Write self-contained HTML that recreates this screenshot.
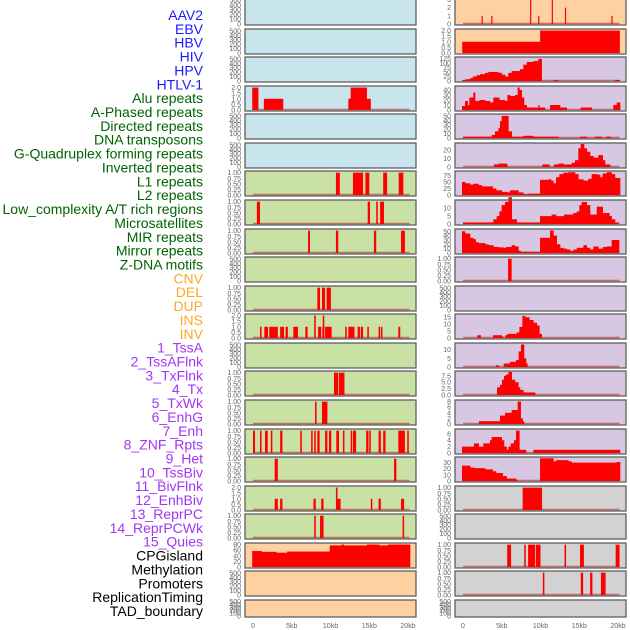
<!DOCTYPE html>
<html><head><meta charset="utf-8">
<style>
html,body{margin:0;padding:0;background:#fff;}
svg{display:block;font-family:"Liberation Sans",sans-serif;}
</style></head>
<body>
<svg id="chart" width="630" height="630" viewBox="0 0 630 630" xmlns="http://www.w3.org/2000/svg">
<g id="labels"></g>
<g id="panels"></g>
<g id="xaxes"></g>
</svg>
<script>
// ---- labels ----
const labelNames = ["AAV2","EBV","HBV","HIV","HPV","HTLV-1","Alu repeats","A-Phased repeats","Directed repeats","DNA transposons","G-Quadruplex forming repeats","Inverted repeats","L1 repeats","L2 repeats","Low_complexity A/T rich regions","Microsatellites","MIR repeats","Mirror repeats","Z-DNA motifs","CNV","DEL","DUP","INS","INV","1_TssA","2_TssAFlnk","3_TxFlnk","4_Tx","5_TxWk","6_EnhG","7_Enh","8_ZNF_Rpts","9_Het","10_TssBiv","11_BivFlnk","12_EnhBiv","13_ReprPC","14_ReprPCWk","15_Quies","CPGisland","Methylation","Promoters","ReplicationTiming","TAD_boundary"];
const labelGroups = ["v","v","v","v","v","v","r","r","r","r","r","r","r","r","r","r","r","r","r","c","c","c","c","c","s","s","s","s","s","s","s","s","s","s","s","s","s","s","s","o","o","o","o","o"];
const groupColor = {v:"#1a1aff",r:"#006400",c:"#ffa726",s:"#a335f5",o:"#000"};

// ---- x axis ----
const xTickValues = [0,5,10,15,20];
const xTickLabels = ["0","5kb","10kb","15kb","20kb"];

// ---- tick sets ----
const T500 = [0,100,200,300,400,500];
const T1 = [0,0.25,0.5,0.75,1];
const T1L = ["0.00","0.25","0.50","0.75","1.00"];
const T2 = [0,0.5,1,1.5,2];
const T2L = ["0.0","0.5","1.0","1.5","2.0"];

// ---- data: bars are [startKb, endKb, value]; steps are [startKb, value] with last [endKb, null] ----
const L3 = [[-0.1,0.7,2],[1.4,3.9,1],[12.3,15.2,1],[12.6,14.7,2]];
const L6 = [[10.7,11.2,1],[12.9,14.2,1],[14.5,15.0,1],[16.8,17.3,1],[18.8,19.4,1]];
const L7 = [[0.5,0.9,1],[14.8,15.1,1],[15.9,16.1,1],[16.4,16.9,1]];
const L8 = [[7.1,7.35,1],[10.7,11.0,1],[15.6,15.9,1],[19.1,19.6,1]];
const L10 = [[8.3,8.65,1],[8.9,9.3,1],[9.5,10.05,1]];
const L11 = [[0.9,1.1,1],[1.46,1.94,1],[2.1,3.2,1],[3.5,4.0,1],[4.2,4.5,1],[5.2,5.8,1],[6.75,7.05,1],[7.9,8.1,2],[8.4,8.8,1],[8.95,9.2,1],[9.0,9.2,2],[9.3,10.15,1],[11.9,12.1,1],[12.3,13.1,1],[13.5,13.8,1],[13.9,14.2,1],[14.75,14.95,1],[16.2,16.4,1],[16.5,16.7,1],[18.75,19.0,1]];
const L13 = [[10.45,11.0,1],[11.1,11.8,1]];
const L14 = [[8.0,8.2,1],[8.9,9.6,1]];
const L15 = [[0,0.26,1],[0.9,1.1,1],[1.55,1.9,1],[2.3,2.5,1],[3.5,3.8,1],[6.1,6.3,1],[7.5,7.7,1],[7.9,8.1,1],[8.3,8.6,1],[9.3,9.6,1],[9.8,10.1,1],[10.75,11.1,1],[11.6,11.8,1],[12.6,12.8,1],[12.9,13.3,1],[14.6,14.9,1],[15.0,15.2,1],[16.2,16.5,1],[16.8,17.1,1],[18.75,19.6,1],[19.9,20.1,1]];
const L16 = [[2.8,3.2,1],[18.2,18.5,1]];
const L17 = [[2.8,3.2,1],[3.5,3.8,1],[7.8,8.1,1],[8.8,9.1,1],[10.7,10.9,2],[10.9,11.3,1],[15.2,15.4,1],[16.2,16.5,1],[19.1,19.5,1]];
const L18 = [[7.9,8.1,1],[8.65,9.1,1],[19.3,19.5,1]];
const L19 = [[-0.1,57],[1.1,54],[3.0,51],[4.4,55],[9.9,77],[11.4,80],[11.7,77],[14.7,80],[16.3,77],[17.4,80],[20.26,null]];

const R0 = [[2.4,2.55,1],[3.65,3.8,1],[8.65,8.8,3],[9.7,9.85,1],[11.45,11.6,3],[13.15,13.3,2],[19.15,19.3,1]];
const R1 = [[-0.1,1],[9.95,2],[20.2,null]];
const R2 = [[-0.13,5],[0.34,10],[0.9,15],[1.25,25],[1.76,32],[2.19,38],[2.84,45],[3.27,50],[4.56,45],[4.99,35],[5.42,25],[5.85,45],[6.28,55],[7.35,65],[7.78,90],[8.22,105],[9.08,110],[9.72,122],[10.15,0],[11.66,5],[12.26,0],[19.61,5],[20.26,null]];
const R3 = [[-0.13,8],[0.26,18],[0.6,10],[0.82,25],[1.33,35],[1.55,18],[2.11,20],[2.84,18],[3.48,15],[3.91,25],[4.69,20],[5.42,18],[5.72,30],[6.06,28],[6.71,30],[7.05,45],[7.27,40],[7.57,25],[7.87,10],[8.22,5],[9.29,5],[9.72,10],[9.85,5],[10.58,0],[11.23,10],[12.52,5],[13.38,0],[15.18,5],[16.6,0],[19.4,10],[19.83,15],[20.26,null]];
const R4 = [[0,3],[3.7,7],[4.13,15],[4.56,22],[4.77,38],[4.99,50],[5.85,15],[6.28,3],[7.78,5],[9.08,3],[12.3,0],[15.1,3],[15.96,0],[17.03,3],[17.89,0],[18.45,3],[19.05,0],[20.1,null]];
const R5 = [[4.0,3],[4.6,4],[5.63,3],[5.72,0],[10.24,3],[11.14,0],[11.74,3],[12.3,4],[12.95,3],[14.02,5],[14.45,8],[14.88,22],[15.18,27],[15.61,22],[15.96,18],[16.39,13],[16.82,11],[17.46,14],[18.02,8],[18.32,3],[18.97,null]];
const R6 = [[-0.13,50],[0.26,45],[0.9,40],[1.33,43],[1.98,38],[2.41,33],[3.83,25],[4.26,18],[4.99,12],[5.72,10],[6.06,18],[7.14,10],[7.78,3],[8.3,5],[9.94,58],[11.01,60],[11.35,55],[11.66,45],[12.0,68],[12.43,80],[12.95,85],[13.59,87],[14.45,80],[14.88,60],[15.53,55],[16.17,62],[16.6,80],[17.25,78],[17.68,68],[18.02,82],[18.54,87],[19.18,80],[19.61,65],[20.26,null]];
const R7 = [[0,1],[3.91,3],[4.34,5],[4.69,8],[4.99,12],[5.42,14],[5.85,17],[6.28,3],[6.92,1],[9.94,5],[11.44,6],[12.0,5],[13.03,6],[14.24,7],[14.67,8],[15.01,12],[15.31,14],[15.96,12],[16.39,6],[17.25,11],[18.02,7],[18.88,5],[19.18,3],[19.61,1],[20.04,null]];
const R8 = [[-0.13,50],[0.26,45],[0.9,35],[1.33,32],[1.63,25],[1.98,23],[2.84,20],[3.27,18],[3.91,14],[4.56,13],[5.2,12],[5.55,14],[6.28,18],[6.71,15],[7.14,5],[7.44,3],[9.94,35],[11.23,52],[11.66,40],[12.09,20],[12.52,12],[12.95,10],[13.38,8],[13.81,5],[14.24,8],[14.67,12],[15.53,18],[15.96,12],[16.39,8],[16.82,15],[17.46,10],[18.02,14],[18.54,15],[19.18,30],[20.13,null]];
const R9 = [[5.81,6.28,1]];
const R11 = [[1.85,2],[2.28,0],[3.87,2],[4.99,1],[5.2,0],[5.46,2],[5.72,3],[6.92,4],[7.27,8],[7.66,16],[8.0,15],[8.56,13],[9.08,11],[9.51,9],[9.85,3],[10.15,null]];
const R12 = [[4.26,1],[4.6,0],[5.25,2],[6.06,3],[6.84,4],[7.18,9],[7.48,13],[7.87,5],[8.13,2],[8.3,null]];
const R13 = [[4.39,3],[4.77,4],[5.03,6],[5.29,7.5],[5.55,8],[5.85,9],[6.28,6],[6.71,5],[7.14,3],[7.35,2],[7.78,1],[9.29,null]];
const R14 = [[2.06,1],[4.77,3],[5.42,4],[6.28,5],[7.05,8],[7.44,2],[7.7,1],[7.87,null]];
const R15 = [[-0.13,2],[1.42,3],[2.02,2],[2.62,3],[3.48,4],[3.7,5],[4.99,4],[5.29,2],[5.63,1],[5.85,2],[6.15,3],[6.58,4],[6.84,7],[7.27,1],[8.13,0],[9.08,1],[20.26,null]];
const R16 = [[-0.13,25],[0.9,22],[1.42,21],[2.84,19],[3.83,16],[4.26,13],[5.12,8],[5.63,4],[6.84,2],[7.01,0],[9.94,37],[11.66,32],[12.0,34],[13.59,32],[14.02,30],[19.83,31],[20.26,null]];
const R17 = [[7.7,10.2,1]];
const R19 = [[5.7,6.2,1],[7.9,8.1,1],[8.4,9.3,1],[9.4,10.0,1],[13.1,13.3,1],[15.1,15.6,1],[19.7,20.2,1]];
const R20 = [[10.3,10.5,1],[15.2,15.5,1],[16.4,16.7,1],[17.8,18.4,1]];

const BLUE="#c8e4ec", GREEN="#c9e1a5", PEACH="#ffd1a0", LAV="#d7c7e3", GRAY="#d2d2d2";
// panel configs: col, row, background, ymax, ticks, tick labels, data, kind
const panels = [
 {c:0,r:0,bg:BLUE,ymax:520,t:T500},{c:0,r:1,bg:BLUE,ymax:520,t:T500},{c:0,r:2,bg:BLUE,ymax:520,t:T500},
 {c:0,r:3,bg:BLUE,ymax:2.05,t:T2,tl:T2L,bars:L3},
 {c:0,r:4,bg:BLUE,ymax:520,t:T500},{c:0,r:5,bg:BLUE,ymax:520,t:T500},
 {c:0,r:6,bg:GREEN,ymax:1.03,t:T1,tl:T1L,bars:L6},{c:0,r:7,bg:GREEN,ymax:1.03,t:T1,tl:T1L,bars:L7},
 {c:0,r:8,bg:GREEN,ymax:1.03,t:T1,tl:T1L,bars:L8},{c:0,r:9,bg:GREEN,ymax:520,t:T500},
 {c:0,r:10,bg:GREEN,ymax:1.03,t:T1,tl:T1L,bars:L10},{c:0,r:11,bg:GREEN,ymax:2.05,t:T2,tl:T2L,bars:L11},
 {c:0,r:12,bg:GREEN,ymax:520,t:T500},{c:0,r:13,bg:GREEN,ymax:1.03,t:T1,tl:T1L,bars:L13},
 {c:0,r:14,bg:GREEN,ymax:1.03,t:T1,tl:T1L,bars:L14},{c:0,r:15,bg:GREEN,ymax:1.03,t:T1,tl:T1L,bars:L15},
 {c:0,r:16,bg:GREEN,ymax:1.03,t:T1,tl:T1L,bars:L16},{c:0,r:17,bg:GREEN,ymax:2.05,t:T2,tl:T2L,bars:L17},
 {c:0,r:18,bg:GREEN,ymax:1.03,t:T1,tl:T1L,bars:L18},
 {c:0,r:19,bg:PEACH,ymax:82,t:[0,20,40,60,80],steps:L19},
 {c:0,r:20,bg:PEACH,ymax:520,t:T500},{c:0,r:21,bg:PEACH,ymax:520,t:T500},
 {c:1,r:0,bg:PEACH,ymax:3.05,t:[0,1,2,3],bars:R0},
 {c:1,r:1,bg:PEACH,ymax:2.05,t:T2,tl:T2L,steps:R1},
 {c:1,r:2,bg:LAV,ymax:127,t:[0,25,50,75,100,125],steps:R2},
 {c:1,r:3,bg:LAV,ymax:46,t:[0,10,20,30,40],steps:R3},
 {c:1,r:4,bg:LAV,ymax:52,t:[0,10,20,30,40,50],steps:R4},
 {c:1,r:5,bg:LAV,ymax:27,t:[0,10,20],steps:R5},
 {c:1,r:6,bg:LAV,ymax:88,t:[0,25,50,75],steps:R6},
 {c:1,r:7,bg:LAV,ymax:14.6,t:[0,5,10],steps:R7},
 {c:1,r:8,bg:LAV,ymax:53,t:[0,10,20,30,40,50],steps:R8},
 {c:1,r:9,bg:LAV,ymax:1.03,t:T1,tl:T1L,bars:R9},
 {c:1,r:10,bg:LAV,ymax:520,t:T500},
 {c:1,r:11,bg:LAV,ymax:16.6,t:[0,5,10,15],steps:R11},
 {c:1,r:12,bg:LAV,ymax:13.3,t:[0,5,10],steps:R12},
 {c:1,r:13,bg:LAV,ymax:9,t:[0,2.5,5,7.5],tl:["0.0","2.5","5.0","7.5"],steps:R13},
 {c:1,r:14,bg:LAV,ymax:8.2,t:[0,2,4,6,8],steps:R14},
 {c:1,r:15,bg:LAV,ymax:7.2,t:[0,2,4,6],steps:R15},
 {c:1,r:16,bg:LAV,ymax:37.5,t:[0,10,20,30],steps:R16},
 {c:1,r:17,bg:GRAY,ymax:1.03,t:T1,tl:T1L,bars:R17},
 {c:1,r:18,bg:GRAY,ymax:520,t:T500},
 {c:1,r:19,bg:GRAY,ymax:1.03,t:T1,tl:T1L,bars:R19},
 {c:1,r:20,bg:GRAY,ymax:1.03,t:T1,tl:T1L,bars:R20},
 {c:1,r:21,bg:GRAY,ymax:520,t:T500}
];

const NS="http://www.w3.org/2000/svg";
function mk(tag,attrs,parent){const e=document.createElementNS(NS,tag);for(const k in attrs)e.setAttribute(k,attrs[k]);parent.appendChild(e);return e;}
const colLeft=[245,455], panelW=171;
function rowTop(r){return r===0?-2:Math.round(r*28.57);}
function rowH(r){return r===0?27:(r===21?17:25);}
function xScale(c,kb){return colLeft[c]+8+kb*7.75;}

// labels
const gl=document.getElementById('labels');
labelNames.forEach((name,i)=>{
  const t=mk('text',{x:203,y:(15+i*13.86+5).toFixed(1),'text-anchor':'end','font-size':'14',fill:groupColor[labelGroups[i]]},gl);
  
  
  t.textContent=name;
});

// panels
const gp=document.getElementById('panels');
panels.forEach(p=>{
  const top=rowTop(p.r), h=rowH(p.r), left=colLeft[p.c];
  const g=mk('g',{},gp);
  
  
  mk('rect',{x:left,y:top,width:panelW,height:h,fill:p.bg},g);
  const y0=top+h-1, y1=top+1;
  const ys=v=>y0-(v/p.ymax)*(y0-y1);
  // ticks
  p.t.forEach((tv,k)=>{
    const yy=ys(tv); if(yy<top-3) return;
    const tt=mk('text',{x:left-4,y:(yy+2.5).toFixed(1),'text-anchor':'end','font-size':'7',fill:'#666'},g);
    
    
    tt.textContent=p.tl?p.tl[k]:String(tv);
  });
  const hasData=p.bars||p.steps;
  if(hasData){
    const bl=mk('line',{x1:xScale(p.c,0),x2:xScale(p.c,20.2),y1:y0-0.5,y2:y0-0.5,stroke:'rgba(190,40,40,0.6)','stroke-width':1.5},g);
    
    
  }
  if(p.bars){
    p.bars.forEach(b=>{
      const x0=xScale(p.c,b[0]),x1=xScale(p.c,b[1]);
      const rr=mk('rect',{x:x0.toFixed(2),y:ys(b[2]).toFixed(2),width:Math.max(1.2,x1-x0).toFixed(2),height:(y0-ys(b[2])).toFixed(2),fill:'#ff0000'},g);
      
      
    });
  }
  if(p.steps){
    for(let k=0;k<p.steps.length-1;k++){
      const s=p.steps[k]; if(!s[1]) continue;
      const x0=xScale(p.c,s[0]),x1=xScale(p.c,p.steps[k+1][0]);
      const rr=mk('rect',{x:x0.toFixed(2),y:ys(s[1]).toFixed(2),width:(x1-x0+0.3).toFixed(2),height:(y0-ys(s[1])).toFixed(2),fill:'#ff0000'},g);
      
      
    }
  }
  mk('rect',{x:left,y:top,width:panelW,height:h,fill:'none',stroke:'#5f5f5f','stroke-width':1.3},g);
});

// x axes
const gx=document.getElementById('xaxes');
[0,1].forEach(c=>{
  xTickValues.forEach((v,i)=>{
    const t=mk('text',{x:xScale(c,v).toFixed(1),y:628,'text-anchor':'middle','font-size':'7',fill:'#666'},gx);
    
    
    t.textContent=xTickLabels[i];
  });
});
</script>
</body></html>
